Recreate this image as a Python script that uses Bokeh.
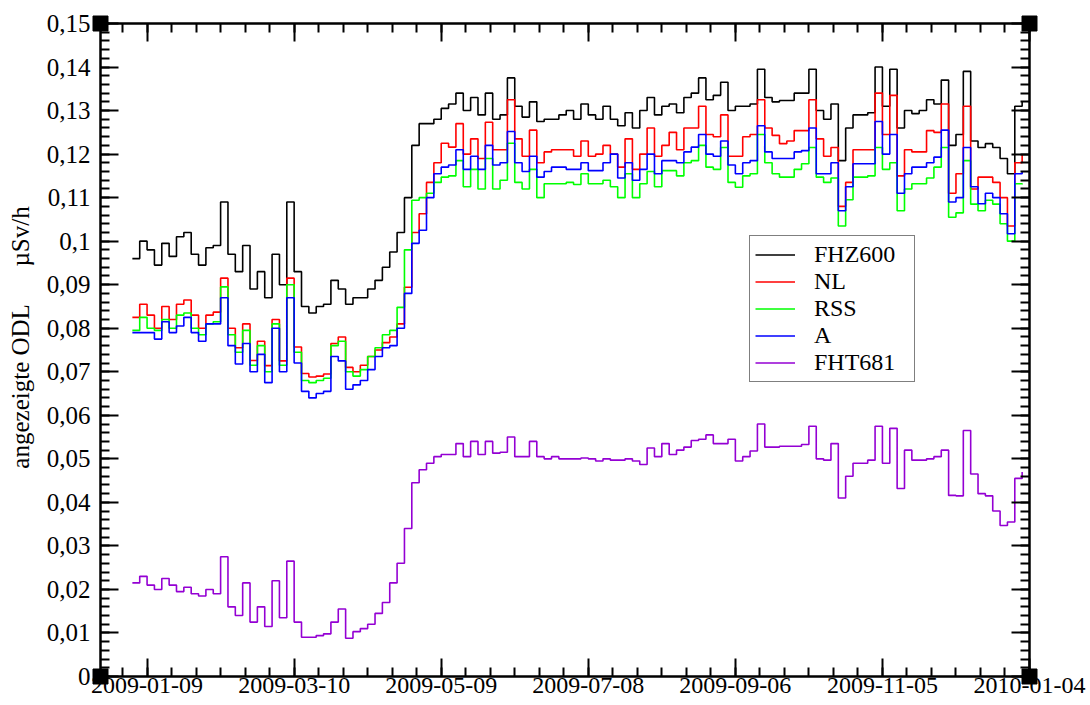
import pandas as pd
from bokeh.plotting import figure
from bokeh.models import (FixedTicker, LinearAxis, Range1d, CustomJSTickFormatter,
                          Legend, LegendItem)
from bokeh.embed import file_html
from bokeh.resources import INLINE

FONT = "Liberation Serif"

# ---- data (one sample every 3 days) ----
dates = pd.date_range("2009-01-03", periods=122, freq="3D")

fhz600 = [
    0.096, 0.100, 0.098, 0.0945, 0.0995, 0.0965, 0.101, 0.102, 0.097, 0.0945,
    0.0985, 0.099, 0.109, 0.097, 0.093, 0.099, 0.089, 0.093, 0.087, 0.097,
    0.090, 0.109, 0.093, 0.085, 0.0835, 0.085, 0.0855, 0.091, 0.089, 0.0855,
    0.087, 0.087, 0.089, 0.091, 0.094, 0.0975, 0.102, 0.110, 0.122, 0.127,
    0.127, 0.128, 0.1305, 0.1315, 0.134, 0.130, 0.133, 0.129, 0.134, 0.128,
    0.129, 0.1375, 0.131, 0.1285, 0.132, 0.1275, 0.128, 0.128, 0.129, 0.130,
    0.128, 0.1315, 0.129, 0.128, 0.131, 0.128, 0.1265, 0.1295, 0.126, 0.130,
    0.133, 0.129, 0.131, 0.1315, 0.1295, 0.133, 0.134, 0.1375, 0.1325, 0.1335,
    0.1365, 0.130, 0.131, 0.131, 0.1315, 0.1395, 0.133, 0.132, 0.1323, 0.1323,
    0.134, 0.134, 0.1395, 0.130, 0.128, 0.1315, 0.1185, 0.126, 0.129, 0.129,
    0.1295, 0.140, 0.131, 0.1395, 0.126, 0.130, 0.1293, 0.130, 0.1325, 0.1315,
    0.137, 0.122, 0.1245, 0.139, 0.123, 0.1215, 0.1224, 0.1215, 0.119, 0.1155,
    0.131, 0.132]

nl = [
    0.0825, 0.0855, 0.083, 0.080, 0.085, 0.082, 0.0855, 0.0865, 0.083, 0.080,
    0.083, 0.0837, 0.0915, 0.080, 0.0755, 0.081, 0.0726, 0.077, 0.0714, 0.082,
    0.0725, 0.0915, 0.0757, 0.0696, 0.0688, 0.069, 0.0695, 0.0765, 0.078, 0.071,
    0.070, 0.0715, 0.0735, 0.075, 0.0767, 0.078, 0.081, 0.0894, 0.102, 0.1063,
    0.1135, 0.118, 0.1225, 0.1216, 0.127, 0.120, 0.1235, 0.119, 0.1273, 0.121,
    0.121, 0.1325, 0.1235, 0.1195, 0.1255, 0.118, 0.1205, 0.121, 0.121, 0.121,
    0.1195, 0.123, 0.1195, 0.120, 0.122, 0.120, 0.117, 0.1235, 0.1165, 0.120,
    0.126, 0.1195, 0.122, 0.125, 0.121, 0.126, 0.126, 0.131, 0.1245, 0.124,
    0.129, 0.1195, 0.1195, 0.124, 0.1245, 0.1325, 0.126, 0.1243, 0.1224, 0.123,
    0.1254, 0.1254, 0.1325, 0.1235, 0.1195, 0.1215, 0.108, 0.1135, 0.121, 0.121,
    0.121, 0.134, 0.1245, 0.1335, 0.115, 0.121, 0.1205, 0.1205, 0.1254, 0.125,
    0.1315, 0.111, 0.1155, 0.131, 0.112, 0.1147, 0.1147, 0.1135, 0.110, 0.1035,
    0.118, 0.12]

rss = [
    0.0795, 0.0825, 0.080, 0.0795, 0.082, 0.080, 0.083, 0.0835, 0.080, 0.0785,
    0.081, 0.0815, 0.0895, 0.0785, 0.0745, 0.0795, 0.0715, 0.076, 0.070, 0.081,
    0.0715, 0.090, 0.0745, 0.068, 0.0675, 0.068, 0.0685, 0.076, 0.077, 0.070,
    0.069, 0.0705, 0.0735, 0.0755, 0.0785, 0.0795, 0.0848, 0.098, 0.1094, 0.110,
    0.111, 0.1135, 0.1147, 0.115, 0.1185, 0.1125, 0.1165, 0.112, 0.119, 0.112,
    0.114, 0.1225, 0.1135, 0.112, 0.1165, 0.110, 0.1132, 0.1132, 0.1132, 0.1135,
    0.113, 0.1155, 0.1132, 0.1132, 0.114, 0.1125, 0.110, 0.1155, 0.110, 0.1132,
    0.116, 0.1125, 0.1162, 0.1162, 0.115, 0.118, 0.1185, 0.122, 0.117, 0.1165,
    0.1215, 0.1135, 0.1124, 0.115, 0.1155, 0.1245, 0.118, 0.1155, 0.1147, 0.1147,
    0.1165, 0.1178, 0.1215, 0.1147, 0.1135, 0.1145, 0.1035, 0.1095, 0.1147, 0.1147,
    0.115, 0.1215, 0.1165, 0.118, 0.107, 0.112, 0.1132, 0.1132, 0.1145, 0.117,
    0.1215, 0.1055, 0.1065, 0.1185, 0.1085, 0.107, 0.1094, 0.1085, 0.104, 0.100,
    0.1132, 0.113]

a_vals = [
    0.079, 0.079, 0.079, 0.0775, 0.0815, 0.079, 0.0805, 0.0825, 0.079, 0.077,
    0.081, 0.081, 0.087, 0.076, 0.0718, 0.0765, 0.070, 0.074, 0.0675, 0.080,
    0.070, 0.087, 0.072, 0.0655, 0.064, 0.065, 0.0655, 0.0735, 0.0725, 0.066,
    0.067, 0.068, 0.0705, 0.0735, 0.0755, 0.076, 0.080, 0.088, 0.0995, 0.1025,
    0.110, 0.1155, 0.117, 0.1175, 0.121, 0.1165, 0.1195, 0.1165, 0.122, 0.1175,
    0.118, 0.1252, 0.118, 0.116, 0.1195, 0.1147, 0.116, 0.117, 0.117, 0.1165,
    0.1165, 0.118, 0.1162, 0.1162, 0.118, 0.120, 0.1145, 0.118, 0.114, 0.1165,
    0.120, 0.1155, 0.1185, 0.1185, 0.118, 0.1205, 0.1216, 0.1245, 0.120, 0.1195,
    0.123, 0.1175, 0.1155, 0.118, 0.1185, 0.1265, 0.1205, 0.119, 0.119, 0.119,
    0.1205, 0.1208, 0.126, 0.1155, 0.1155, 0.118, 0.107, 0.1125, 0.1178, 0.1178,
    0.1178, 0.1275, 0.120, 0.1245, 0.111, 0.1155, 0.117, 0.117, 0.118, 0.1193,
    0.1255, 0.109, 0.110, 0.1215, 0.1125, 0.1086, 0.111, 0.110, 0.1063, 0.1017,
    0.1155, 0.116]

fht681 = [
    0.0215, 0.023, 0.021, 0.020, 0.0225, 0.021, 0.0195, 0.0205, 0.019, 0.0185,
    0.020, 0.019, 0.0275, 0.016, 0.014, 0.0215, 0.0125, 0.016, 0.0115, 0.022,
    0.0135, 0.0265, 0.0125, 0.009, 0.009, 0.0094, 0.0098, 0.0125, 0.0155, 0.0088,
    0.0103, 0.011, 0.012, 0.0145, 0.017, 0.0215, 0.026, 0.034, 0.0445, 0.0475,
    0.049, 0.0505, 0.051, 0.051, 0.0535, 0.0505, 0.054, 0.051, 0.054, 0.0513,
    0.0515, 0.055, 0.0505, 0.0505, 0.054, 0.0505, 0.050, 0.0505, 0.050, 0.050,
    0.050, 0.0502, 0.050, 0.0495, 0.050, 0.0497, 0.0497, 0.050, 0.0495, 0.0487,
    0.0525, 0.0505, 0.0535, 0.051, 0.052, 0.0527, 0.0542, 0.0545, 0.0555, 0.0535,
    0.0535, 0.0545, 0.0495, 0.0505, 0.0518, 0.058, 0.0527, 0.0527, 0.0529, 0.0529,
    0.0529, 0.0533, 0.0575, 0.050, 0.0497, 0.0535, 0.041, 0.046, 0.049, 0.049,
    0.0497, 0.0575, 0.049, 0.057, 0.0432, 0.052, 0.0497, 0.0497, 0.050, 0.0505,
    0.052, 0.0416, 0.0415, 0.0565, 0.0465, 0.042, 0.0415, 0.038, 0.0347, 0.0355,
    0.0455, 0.047]

series_names = ["FHZ600", "NL", "RSS", "A", "FHT681"]
series_colors = ["#000000", "#ff0000", "#00ff00", "#0000ff", "#9400d3"]
series_values = [fhz600, nl, rss, a_vals, fht681]

x_major_dates = ["2009-01-09", "2009-03-10", "2009-05-09", "2009-07-08",
                 "2009-09-06", "2009-11-05", "2010-01-04"]
y_major = [round(0.01 * k, 2) for k in range(16)]
y_minor = [round(0.002 * k, 3) for k in range(76)]


def ms(ts):
    return pd.Timestamp(ts).value // 10**6


x_start, x_end = ms("2008-12-21"), ms("2010-01-04")
y_start, y_end = 0.0, 0.15
x_major = [ms(d) for d in x_major_dates]
x_minor = [ms(pd.Timestamp("2008-12-30") + pd.Timedelta(days=10 * k)) for k in range(38)]

xticker = FixedTicker(ticks=x_major, minor_ticks=x_minor)
yticker = FixedTicker(ticks=y_major, minor_ticks=y_minor)

p = figure(frame_width=929, frame_height=653, output_backend="svg", toolbar_location=None,
           x_range=Range1d(x_start, x_end), y_range=Range1d(y_start, y_end),
           min_border_left=100, min_border_right=61, min_border_top=23,
           min_border_bottom=29, background_fill_color="white",
           border_fill_color="white")
p.grid.visible = False
p.outline_line_color = "black"
p.outline_line_width = 2

date_fmt = CustomJSTickFormatter(code="return new Date(tick).toISOString().slice(0, 10);")
num_fmt = CustomJSTickFormatter(code="return String(parseFloat(tick.toFixed(2))).replace('.', ',');")
blank_fmt = CustomJSTickFormatter(code="return '';")


def style_axis(ax, labels=True):
    ax.axis_line_color = "black"
    ax.axis_line_width = 2
    ax.major_tick_in = 18
    ax.major_tick_out = 0
    ax.minor_tick_in = 9
    ax.minor_tick_out = 0
    ax.major_tick_line_width = 2
    ax.minor_tick_line_width = 2
    ax.major_tick_line_color = "black"
    ax.minor_tick_line_color = "black"
    if labels:
        ax.major_label_text_font = FONT
        ax.major_label_text_color = "black"
    else:
        ax.major_label_text_font_size = "0px"
        ax.major_label_standoff = 0


xa = p.xaxis[0]
xa.ticker = xticker
xa.formatter = date_fmt
style_axis(xa)
xa.major_label_text_font_size = "24px"
xa.major_label_standoff = 1

ya = p.yaxis[0]
ya.ticker = yticker
ya.formatter = num_fmt
style_axis(ya)
ya.major_label_text_font_size = "25px"
ya.major_label_standoff = 10
ya.axis_label = ("\u00a0\u00a0\u00a0\u00a0angezeigte ODL"
                 "\u00a0\u00a0\u00a0\u00a0\u00a0\u00a0µSv/h")
ya.axis_label_text_font = FONT
ya.axis_label_text_font_size = "25px"
ya.axis_label_text_font_style = "normal"
ya.axis_label_text_color = "black"
ya.axis_label_standoff = 10

top_ax = LinearAxis(ticker=xticker, formatter=blank_fmt)
style_axis(top_ax, labels=False)
p.add_layout(top_ax, "above")
right_ax = LinearAxis(ticker=yticker, formatter=blank_fmt)
style_axis(right_ax, labels=False)
p.add_layout(right_ax, "right")

renderers = []
for name, color, vals in zip(series_names, series_colors, series_values):
    r = p.step(dates, vals, mode="after", line_color=color, line_width=1.6)
    renderers.append(r)

# corner squares of the frame (decoration)
p.scatter([x_start, x_start, x_end, x_end], [y_start, y_end, y_start, y_end],
          marker="square", size=15, color="black", level="overlay")

legend = Legend(items=[LegendItem(label=n, renderers=[r]) for n, r in zip(series_names, renderers)],
                location=(649, 294), orientation="vertical",
                label_text_font=FONT, label_text_font_size="24px", label_text_color="black",
                glyph_width=40, glyph_height=27, label_height=27, label_width=95,
                label_standoff=19, spacing=0, padding=5, margin=0,
                border_line_color="black", border_line_width=1.5,
                background_fill_color="white", background_fill_alpha=1.0)
p.add_layout(legend)

open("out.html", "w").write(file_html(p, INLINE))
